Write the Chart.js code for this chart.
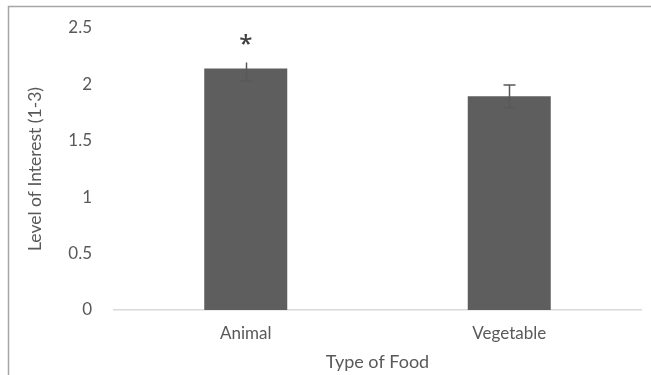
<!DOCTYPE html>
<html>
<head>
<meta charset="utf-8">
<script src="https://cdn.jsdelivr.net/npm/chart.js@4/dist/chart.umd.min.js"></script>
<style>
  html, body { margin: 0; padding: 0; background: #ffffff; }
  #wrap { position: relative; width: 651px; height: 375px; }
</style>
</head>
<body>
<div id="wrap"><canvas id="chart" width="651" height="375"></canvas></div>
<script>
// Mean interest rating per food type, with error bar extents
const categories = ['Animal', 'Vegetable'];
const interest = [2.14, 1.895];
const errorUp = [0.055, 0.1];
const errorDown = [0.11, 0.1];
const upperCap = [false, true];
const significance = ['*', ''];
const yTicks = [0, 0.5, 1, 1.5, 2, 2.5];
const yTickLabels = ['0', '0.5', '1', '1.5', '2', '2.5'];

const TEXT = '#595959';
const FONT = 'Lato, "Open Sans", sans-serif';

// Thin frame along the top and left edge of the figure
const framePlugin = {
  id: 'frame',
  beforeDraw(chart) {
    const ctx = chart.ctx;
    ctx.save();
    ctx.strokeStyle = '#a6a6a6';
    ctx.lineWidth = 1.5;
    ctx.beginPath();
    ctx.moveTo(8.5, chart.height);
    ctx.lineTo(8.5, 6.5);
    ctx.lineTo(chart.width, 6.5);
    ctx.stroke();
    ctx.restore();
  }
};

// Error bars and significance marks drawn through the value scale
const errorBarPlugin = {
  id: 'errorBars',
  afterDatasetsDraw(chart) {
    const ctx = chart.ctx;
    const y = chart.scales.y;
    const meta = chart.getDatasetMeta(0);
    ctx.save();
    ctx.strokeStyle = '#595959';
    ctx.lineWidth = 1.5;
    meta.data.forEach((bar, i) => {
      const x = Math.round(bar.x) + 0.5;
      const top = y.getPixelForValue(interest[i] + errorUp[i]);
      const bottom = y.getPixelForValue(interest[i] - errorDown[i]);
      const half = 6;
      ctx.beginPath();
      ctx.moveTo(x, top);
      ctx.lineTo(x, bottom);
      ctx.moveTo(x - half, bottom);
      ctx.lineTo(x + half, bottom);
      if (upperCap[i]) {
        ctx.moveTo(x - half, top);
        ctx.lineTo(x + half, top);
      }
      ctx.stroke();
      if (significance[i]) {
        ctx.fillStyle = '#404040';
        ctx.font = '600 24px "Open Sans", sans-serif';
        ctx.textAlign = 'center';
        ctx.textBaseline = 'middle';
        ctx.fillText(significance[i], bar.x, top - 17);
      }
    });
    ctx.restore();
  }
};

new Chart(document.getElementById('chart'), {
  type: 'bar',
  data: {
    labels: categories,
    datasets: [{
      data: interest,
      backgroundColor: '#5e5e5e',
      borderWidth: 0,
      barPercentage: 0.315,
      categoryPercentage: 1
    }]
  },
  options: {
    responsive: false,
    animation: false,
    events: [],
    layout: { padding: { left: 25, right: 10, top: 28, bottom: 0 } },
    plugins: {
      legend: { display: false },
      tooltip: { enabled: false }
    },
    scales: {
      x: {
        grid: { display: false, drawTicks: false },
        border: { display: true, color: '#d9d9d9', width: 1.5 },
        ticks: { color: TEXT, font: { family: FONT, size: 17 }, padding: 13 },
        title: {
          display: true,
          text: 'Type of Food',
          color: TEXT,
          font: { family: FONT, size: 18 },
          padding: { top: 4, bottom: 2 }
        },
        afterFit(scale) { scale.height = 65; }
      },
      y: {
        min: 0,
        max: 2.5,
        afterBuildTicks(scale) { scale.ticks = yTicks.map(v => ({ value: v })); },
        grid: { display: false, drawTicks: false },
        border: { display: false },
        ticks: {
          color: TEXT,
          font: { family: FONT, size: 17 },
          padding: 22,
          callback: (value, index) => yTickLabels[index]
        },
        title: {
          display: true,
          text: 'Level of Interest (1-3)',
          color: TEXT,
          font: { family: FONT, size: 17.5 },
          padding: { top: 0, bottom: 0 }
        },
        afterFit(scale) {
          scale.width = 89;
          scale.paddingTop = 0;
          scale.paddingBottom = 0;
        }
      }
    }
  },
  plugins: [framePlugin, errorBarPlugin]
});
</script>
</body>
</html>
